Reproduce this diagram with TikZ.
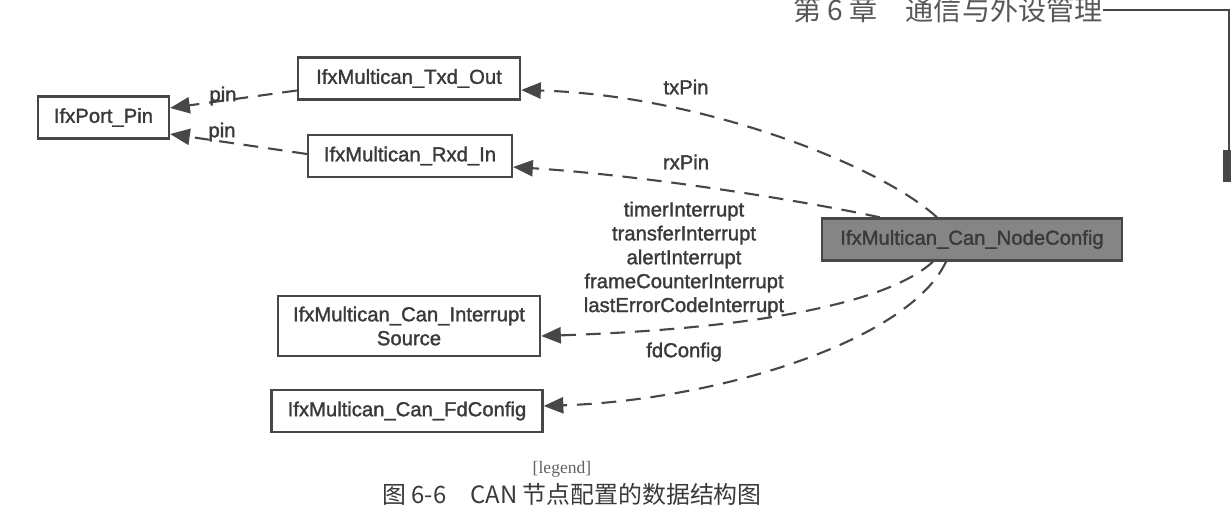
\documentclass[tikz,border=0pt]{standalone}
\usepackage{fontspec}
\setmainfont{Liberation Sans}[FakeBold=1.5]
\newfontfamily\cjkfont{Noto Sans CJK SC}
\newfontfamily\legendfont{Liberation Serif}
\usetikzlibrary{arrows.meta,calc}
\definecolor{linegray}{HTML}{474747}
\definecolor{textgray}{HTML}{3A3A3A}
\definecolor{boxfill}{HTML}{858585}

\begin{document}
\begin{tikzpicture}[x=0.025cm,y=-0.025cm,
	cls/.style={draw=linegray,line width=1.6pt,inner sep=0pt,minimum height=1.05cm,text=textgray,font=\fontsize{14.4pt}{17pt}\selectfont,align=center},
	dep/.style={draw=linegray,line width=1.5pt,dash pattern=on 10.5pt off 7pt,-{Triangle[length=14pt,width=11.5pt]}},
	lbl/.style={text=textgray,font=\fontsize{14.4pt}{17pt}\selectfont,align=center,inner sep=0pt}]
					\useasboundingbox (0,0) rectangle (1231,517);
					\node[cls,minimum width=3.275cm] (portpin) at (103.5,117.5) {IfxPort\_Pin};
					\node[cls,minimum width=5.55cm] (txd) at (409,78.5) {IfxMultican\_Txd\_Out};
					\node[cls,minimum width=5.1cm] (rxd) at (410,156) {IfxMultican\_Rxd\_In};
					\node[cls,minimum width=7.5cm,fill=boxfill] (cfg) at (972,239.5) {IfxMultican\_Can\_NodeConfig};
					\node[cls,minimum width=6.55cm,minimum height=1.5cm] (irq) at (409,326) {IfxMultican\_Can\_Interrupt\\Source};
					\node[cls,minimum width=6.775cm] (fdcfg) at (407,411) {IfxMultican\_Can\_FdConfig};

					\draw[dep] ($(cfg.north)+(-35,0)$) .. controls (880,165) and (700,95) .. ($(txd.east)+(0,11.5)$);
					\draw[dep] ($(cfg.north)+(-92,0)$) .. controls (800,200) and (640,175) .. ($(rxd.east)+(0,11)$);
					\draw[dep] ($(cfg.south)+(-39,0)$) .. controls (880,310) and (720,330) .. ($(irq.east)+(0,10)$);
					\draw[dep] ($(cfg.south)+(-26,0)$) .. controls (910,340) and (720,400) .. ($(fdcfg.east)+(0,-5)$);
					\draw[dep] ($(txd.west)+(0,12)$) -- ($(portpin.east)+(0,-9.5)$);
					\draw[dep] ($(rxd.west)+(0,-2)$) -- ($(portpin.east)+(0,16.5)$);

					\node[lbl] (lbltx) at (686,87) {txPin};
					\node[lbl] (lblrx) at (686,162) {rxPin};
					\node[lbl] (lblirq) at (684,259) {timerInterrupt\\transferInterrupt\\alertInterrupt\\frameCounterInterrupt\\lastErrorCodeInterrupt};
					\node[lbl] (lblfd) at (684,352) {fdConfig};
					\node[lbl] (lblpina) at (223,96) {pin};
					\node[lbl] (lblpinb) at (222,132) {pin};

					% legend and caption
					\node[text=textgray!80,font=\legendfont\fontsize{12.5pt}{15pt}\selectfont] (legend) at (562,469) {[legend]};
					\node[text=textgray,font=\cjkfont\fontsize{17pt}{20pt}\selectfont] (caption) at (572,494) {图 6-6\quad CAN 节点配置的数据结构图};

					% page header
					\node[anchor=east,inner sep=0pt,text=textgray!85,font=\cjkfont\fontsize{20pt}{24pt}\selectfont] (header) at (1103,10) {第 6 章\quad 通信与外设管理};
					\coordinate (tabtop) at (1229,150);
					\draw[linegray,line width=0.8pt] (header.east) -| (tabtop);
					\fill[linegray] (1223,150) rectangle (1231,182);
				\end{tikzpicture}
\end{document}
